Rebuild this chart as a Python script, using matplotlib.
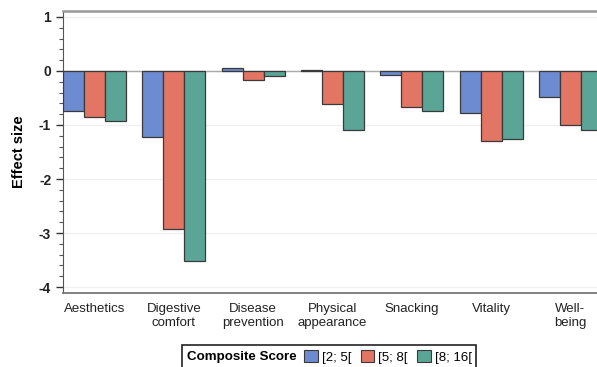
import numpy as np
import matplotlib.pyplot as plt
from matplotlib.patches import Rectangle, Patch
from matplotlib.ticker import MultipleLocator

plt.rcParams['font.family'] = ['Liberation Sans', 'DejaVu Sans']
plt.rcParams['axes.unicode_minus'] = False

# data
categories = ['Aesthetics', 'Digestive\ncomfort', 'Disease\nprevention', 'Physical\nappearance',
              'Snacking', 'Vitality', 'Well-\nbeing']
groups = ['[2; 5[', '[5; 8[', '[8; 16[']
score_2_5 = [-0.74, -1.22, 0.05, 0.01, -0.07, -0.77, -0.49]
score_5_8 = [-0.85, -2.93, -0.17, -0.61, -0.67, -1.30, -1.00]
score_8_16 = [-0.93, -3.52, -0.10, -1.09, -0.74, -1.26, -1.09]

colors = ['#6d8bd1', '#e27563', '#5ba597']
series = [score_2_5, score_5_8, score_8_16]

fig = plt.figure(figsize=(5.97, 3.67), dpi=100)
ax = fig.add_axes([63/597, 1 - 293/367, 539/597, 282/367])

x = np.arange(len(categories))
w = 0.265
for i, (vals, c) in enumerate(zip(series, colors)):
    ax.bar(x + (i - 1) * w, vals, width=w, color=c, edgecolor='#3a3a3a', linewidth=0.9, zorder=3)

ax.set_xlim(-0.4, 6.4)
ax.set_ylim(-4.11, 1.11)
ax.yaxis.set_major_locator(MultipleLocator(1))
ax.yaxis.set_minor_locator(MultipleLocator(0.2))
ax.set_xticks(x)
ax.set_xticklabels(categories, fontsize=9.5, color='#222222', linespacing=1.3)
ax.tick_params(axis='x', length=0, pad=7)
ax.tick_params(axis='y', which='major', length=5, width=1, labelsize=10, colors='#333333')
ax.tick_params(axis='y', which='minor', length=3, width=0.8, colors='#555555')
for lab in ax.get_yticklabels():
    lab.set_fontweight('bold')
    lab.set_color('#222222')

ax.grid(axis='y', color='#f0f0f0', linewidth=1, zorder=0)
ax.axhline(0, color='#aaaaaa', linewidth=1, zorder=2)

ax.spines['right'].set_visible(False)
ax.spines['top'].set_color('#999999')
ax.spines['top'].set_linewidth(1.8)
ax.spines['left'].set_color('#555555')
ax.spines['bottom'].set_color('#777777')
ax.spines['bottom'].set_linewidth(1.3)

ax.set_ylabel('Effect size', fontsize=10.5, fontweight='bold', labelpad=9)

# legend box with inline title
fig.patches.append(Rectangle((182/597, -0.02), 294/597, 0.08, transform=fig.transFigure,
                             facecolor='white', edgecolor='#222222', linewidth=1.2))
fig.text(187/597, 1 - 357/367, 'Composite Score', fontsize=9.6, fontweight='bold',
         va='center', ha='left')
handles = [Patch(facecolor=c, edgecolor='#3a3a3a', linewidth=0.8) for c in colors]
fig.legend(handles, groups, loc='center left', bbox_to_anchor=(304/597, 1 - 357/367),
           ncol=3, frameon=False, fontsize=9.5, handlelength=1.05, handleheight=1.0,
           handletextpad=0.3, columnspacing=0.7, borderpad=0, borderaxespad=0)

fig.savefig('out.png', dpi=100)
